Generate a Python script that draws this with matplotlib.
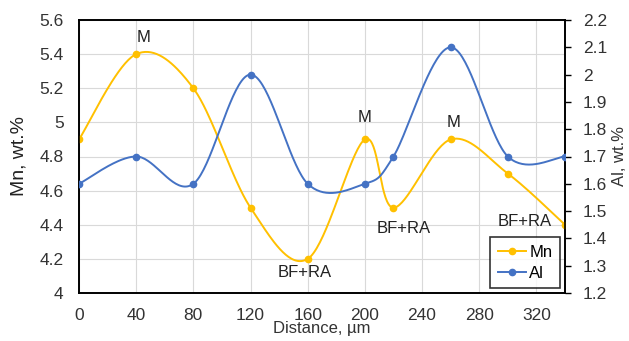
import numpy as np
import matplotlib
matplotlib.use("Agg")
import matplotlib.pyplot as plt

plt.rcParams['font.family'] = ['Liberation Sans', 'DejaVu Sans']

distance = [0, 40, 80, 120, 160, 200, 220, 260, 300, 340]
mn = [4.9, 5.4, 5.2, 4.5, 4.2, 4.9, 4.5, 4.9, 4.7, 4.4]
al = [1.6, 1.7, 1.6, 2.0, 1.6, 1.6, 1.7, 2.1, 1.7, 1.7]

annotations = [("M", 45, 5.50), ("M", 200, 5.03), ("M", 262, 5.0),
               ("BF+RA", 158, 4.12), ("BF+RA", 227, 4.38), ("BF+RA", 312, 4.42)]

MN_COLOR = "#FFC000"
AL_COLOR = "#4472C4"


def smooth(ax, xs, ys, n=40):
    # Excel-like smoothing (Catmull-Rom Bezier) computed in display space
    pts = ax.transData.transform(np.column_stack([xs, ys]))
    P = np.vstack([pts[0], pts, pts[-1]])
    out = []
    for i in range(1, len(P) - 2):
        p0, p1, p2, p3 = P[i - 1], P[i], P[i + 1], P[i + 2]
        c1 = p1 + (p2 - p0) / 6.0
        c2 = p2 - (p3 - p1) / 6.0
        t = np.linspace(0, 1, n)[:, None]
        seg = ((1 - t) ** 3) * p1 + 3 * ((1 - t) ** 2) * t * c1 + 3 * (1 - t) * t ** 2 * c2 + t ** 3 * p2
        out.append(seg if i == 1 else seg[1:])
    out = np.vstack(out)
    d = ax.transData.inverted().transform(out)
    return d[:, 0], d[:, 1]


fig = plt.figure(figsize=(6.29, 3.41), dpi=100)
ax = fig.add_axes([79 / 629, 1 - 293 / 341, (565 - 79) / 629, (293 - 20) / 341])
ax2 = ax.twinx()

ax.set_xlim(0, 340)
ax.set_ylim(4, 5.6)
ax2.set_ylim(1.2, 2.2)
ax.set_xticks(np.arange(0, 321, 40))
ax.set_yticks(np.arange(4, 5.61, 0.2))
ax.set_yticklabels(["4", "4.2", "4.4", "4.6", "4.8", "5", "5.2", "5.4", "5.6"])
ax2.set_yticks(np.arange(1.2, 2.21, 0.1))
ax2.set_yticklabels(["1.2", "1.3", "1.4", "1.5", "1.6", "1.7", "1.8", "1.9", "2", "2.1", "2.2"])

ax.grid(True, which='major', color='#D9D9D9', lw=0.8)
ax.set_axisbelow(True)

fig.canvas.draw()

sx, sy = smooth(ax, distance, mn)
ax.plot(sx, sy, color=MN_COLOR, lw=1.4, zorder=3)
ax.plot(distance, mn, 'o', color=MN_COLOR, ms=4.5, zorder=4)
l1, = ax.plot([], [], '-o', color=MN_COLOR, lw=1.4, ms=4.5, label="Mn")

sx2, sy2 = smooth(ax2, distance, al)
ax2.plot(sx2, sy2, color=AL_COLOR, lw=1.4, zorder=3)
ax2.plot(distance, al, 'o', color=AL_COLOR, ms=4.5, zorder=4)
l2, = ax2.plot([], [], '-o', color=AL_COLOR, lw=1.4, ms=4.5, label="Al")

for txt, x, y in annotations:
    ax.text(x, y, txt, ha='center', va='center', fontsize=12, color='#222222', zorder=5)

for a in (ax, ax2):
    for s in a.spines.values():
        s.set_color('black')
        s.set_linewidth(1.2)

ax.tick_params(axis='y', length=0, labelsize=12.5, colors='#333333', pad=11)
ax.tick_params(axis='x', length=0, labelsize=12.5, colors='#333333', pad=10.5)
ax2.tick_params(axis='y', length=4, width=1, direction='out', labelsize=12.5, colors='black', labelcolor='#333333', pad=9)

ax.set_xlabel("Distance, µm", fontsize=12, color='#333333', labelpad=-1)
ax.set_ylabel("Mn, wt.%", fontsize=14, color='#222222', labelpad=8.5)
ax2.set_ylabel("Al, wt.%", fontsize=12, color='#333333', labelpad=3.5)

leg = ax2.legend(handles=[l1, l2], loc='lower right', fontsize=12, frameon=True,
                 fancybox=False, edgecolor='black', handlelength=1.7, handletextpad=0.2,
                 borderpad=0.45, labelspacing=0.35, borderaxespad=0.3)
leg.get_frame().set_linewidth(1.2)

fig.savefig("out.png", dpi=100, facecolor='white')
